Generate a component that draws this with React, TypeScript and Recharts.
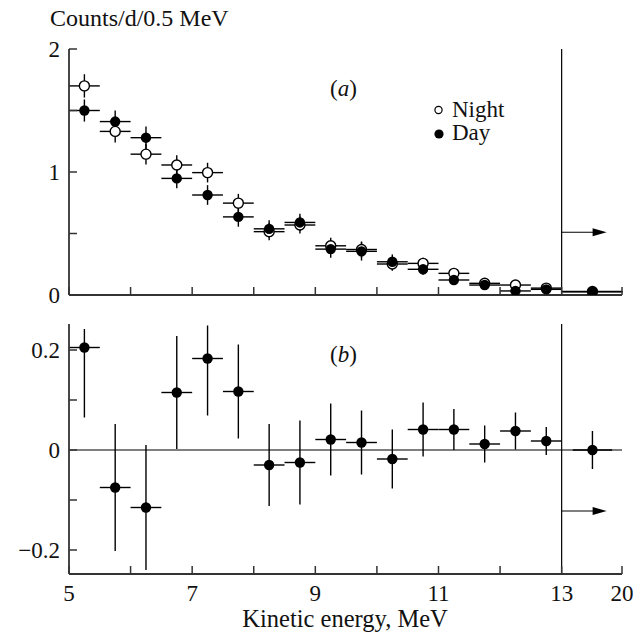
import React from 'react';
import { ScatterChart, Scatter, XAxis, YAxis, ErrorBar, ReferenceLine } from 'recharts';

const FONT = "'Liberation Serif', 'Times New Roman', serif";
const INK = '#111';
const AXIS = '#333';

// 0.5 MeV bins from 5 to 13 MeV; the last entry is the 13-20 MeV bin, drawn compressed at 13.5
const binCenters = [5.25, 5.75, 6.25, 6.75, 7.25, 7.75, 8.25, 8.75, 9.25, 9.75, 10.25, 10.75, 11.25, 11.75, 12.25, 12.75, 13.5];
const binHalfWidthA = [0.25, 0.25, 0.25, 0.25, 0.25, 0.25, 0.25, 0.25, 0.25, 0.25, 0.25, 0.25, 0.25, 0.25, 0.25, 0.25, 0.49];
const binHalfWidthB = [0.25, 0.25, 0.25, 0.25, 0.25, 0.25, 0.25, 0.25, 0.25, 0.25, 0.25, 0.25, 0.25, 0.25, 0.25, 0.25, 0.32];

// panel (a): counts/d/0.5 MeV
const nightRate = [1.70, 1.33, 1.145, 1.057, 0.995, 0.747, 0.515, 0.569, 0.40, 0.37, 0.252, 0.257, 0.176, 0.095, 0.081, 0.056, 0.028];
const nightErr = [0.095, 0.09, 0.085, 0.08, 0.08, 0.075, 0.07, 0.07, 0.065, 0.065, 0.055, 0.045, 0.04, 0.03, 0.03, 0.025, 0.02];
const dayRate = [1.50, 1.41, 1.279, 0.948, 0.813, 0.635, 0.538, 0.59, 0.373, 0.355, 0.27, 0.209, 0.122, 0.081, 0.033, 0.046, 0.027];
const dayErr = [0.09, 0.09, 0.09, 0.08, 0.08, 0.08, 0.07, 0.07, 0.07, 0.075, 0.06, 0.045, 0.04, 0.03, 0.03, 0.025, 0.02];

// panel (b): difference
const diffVal = [0.205, -0.075, -0.115, 0.115, 0.183, 0.117, -0.03, -0.025, 0.021, 0.015, -0.018, 0.041, 0.041, 0.012, 0.038, 0.018, 0.0];
const diffErrLow = [0.14, 0.127, 0.125, 0.113, 0.114, 0.094, 0.082, 0.084, 0.072, 0.064, 0.059, 0.054, 0.041, 0.037, 0.037, 0.028, 0.038];
const diffErrHigh = [0.037, 0.127, 0.125, 0.113, 0.066, 0.094, 0.082, 0.084, 0.072, 0.064, 0.059, 0.054, 0.041, 0.037, 0.037, 0.028, 0.038];

const xTicks = [5, 6, 7, 8, 9, 10, 11, 12, 13, 13.98];
const xTickText = ['5', '', '7', '', '9', '', '11', '', '13', '20'];
const yTicksA = [0, 0.5, 1, 1.5, 2];
const yTickTextA = ['0', '', '1', '', '2'];
const yTicksB = [-0.2, -0.1, 0, 0.1, 0.2];
const yTickTextB = ['\u22120.2', '', '0', '', '0.2'];

const nightData = binCenters.map((x, i) => ({ x, y: nightRate[i], ex: binHalfWidthA[i], ey: nightErr[i] }));
const dayData = binCenters.map((x, i) => ({ x, y: dayRate[i], ex: binHalfWidthA[i], ey: dayErr[i] }));
const diffData = binCenters.map((x, i) => ({ x, y: diffVal[i], ex: binHalfWidthB[i], ey: [diffErrLow[i], diffErrHigh[i]] }));

const findText = (ticks: number[], texts: string[], v: number) => {
  const i = ticks.findIndex((t) => Math.abs(t - v) < 1e-6);
  return i >= 0 ? texts[i] : '';
};

const makeXTick = (showLabel: boolean) => (props: any) => {
  const { x, y, payload } = props;
  const label = findText(xTicks, xTickText, payload.value);
  return (
    <g>
      <line x1={x} x2={x} y1={y} y2={y - 8} stroke={AXIS} strokeWidth={1.5} />
      {showLabel && label && (
        <text x={x} y={y + 27} textAnchor="middle" fontFamily={FONT} fontSize={23} fill={INK}>
          {label}
        </text>
      )}
    </g>
  );
};

const makeYTick = (ticks: number[], texts: string[]) => (props: any) => {
  const { x, y, payload } = props;
  const label = findText(ticks, texts, payload.value);
  return (
    <g>
      <line x1={x} x2={x + 8} y1={y} y2={y} stroke={AXIS} strokeWidth={1.5} />
      {label && (
        <text x={x - 9} y={y + 8} textAnchor="end" fontFamily={FONT} fontSize={23} fill={INK}>
          {label}
        </text>
      )}
    </g>
  );
};

const FilledDot = (props: any) => <circle cx={props.cx} cy={props.cy} r={5.2} fill="#000" />;
const OpenDot = (props: any) => (
  <circle cx={props.cx} cy={props.cy} r={5} fill="#fff" stroke="#000" strokeWidth={1.4} />
);

const Arrow = (props: any) => {
  const { x1, y1, x2, y2 } = props;
  return (
    <g>
      <line x1={x1} y1={y1} x2={x2 - 10} y2={y2} stroke="#000" strokeWidth={1.2} />
      <polygon points={`${x2},${y2} ${x2 - 14},${y2 - 4} ${x2 - 14},${y2 + 4}`} fill="#000" />
    </g>
  );
};

export default function App() {
  return (
    <div style={{ position: 'absolute', left: 0, top: 0, width: 643, height: 634, background: '#fff' }}>
      {/* panel (a) */}
      <div style={{ position: 'absolute', left: 0, top: 0 }}>
        <ScatterChart width={643} height={312} margin={{ top: 49, right: 21, bottom: 0, left: 0 }}>
          <XAxis
            type="number"
            dataKey="x"
            domain={[5, 13.98]}
            ticks={xTicks}
            interval={0}
            allowDataOverflow
            height={17}
            tickSize={0}
            tickMargin={0}
            tickLine={false}
            tick={makeXTick(false)}
            axisLine={{ stroke: AXIS, strokeWidth: 1.8 }}
          />
          <YAxis
            type="number"
            dataKey="y"
            domain={[0, 2]}
            ticks={yTicksA}
            interval={0}
            allowDataOverflow
            width={69}
            tickSize={0}
            tickMargin={0}
            tickLine={false}
            tick={makeYTick(yTicksA, yTickTextA)}
            axisLine={{ stroke: AXIS, strokeWidth: 1.8 }}
          />
          <ReferenceLine x={13} stroke="#000" strokeWidth={1.2} />
          <ReferenceLine
            segment={[{ x: 13, y: 0.51 }, { x: 13.73, y: 0.51 }]}
            shape={Arrow}
          />
          <Scatter data={nightData} shape={OpenDot} isAnimationActive={false}>
            <ErrorBar dataKey="ex" direction="x" width={0} stroke="#000" strokeWidth={1.4} />
            <ErrorBar dataKey="ey" direction="y" width={0} stroke="#000" strokeWidth={1.4} />
          </Scatter>
          <Scatter data={dayData} shape={FilledDot} isAnimationActive={false}>
            <ErrorBar dataKey="ex" direction="x" width={0} stroke="#000" strokeWidth={1.4} />
            <ErrorBar dataKey="ey" direction="y" width={0} stroke="#000" strokeWidth={1.4} />
          </Scatter>
        </ScatterChart>
      </div>

      {/* panel (b) */}
      <div style={{ position: 'absolute', left: 0, top: 300 }}>
        <ScatterChart width={643} height={334} margin={{ top: 24, right: 21, bottom: 0, left: 0 }}>
          <XAxis
            type="number"
            dataKey="x"
            domain={[5, 13.98]}
            ticks={xTicks}
            interval={0}
            allowDataOverflow
            height={60}
            tickSize={0}
            tickMargin={0}
            tickLine={false}
            tick={makeXTick(true)}
            axisLine={{ stroke: AXIS, strokeWidth: 1.8 }}
          />
          <YAxis
            type="number"
            dataKey="y"
            domain={[-0.248, 0.252]}
            ticks={yTicksB}
            interval={0}
            allowDataOverflow
            width={69}
            tickSize={0}
            tickMargin={0}
            tickLine={false}
            tick={makeYTick(yTicksB, yTickTextB)}
            axisLine={{ stroke: AXIS, strokeWidth: 1.8 }}
          />
          <ReferenceLine y={0} stroke="#000" strokeWidth={1.2} />
          <ReferenceLine x={13} stroke="#000" strokeWidth={1.2} />
          <ReferenceLine
            segment={[{ x: 13, y: -0.122 }, { x: 13.73, y: -0.122 }]}
            shape={Arrow}
          />
          <Scatter data={diffData} shape={FilledDot} isAnimationActive={false}>
            <ErrorBar dataKey="ex" direction="x" width={0} stroke="#000" strokeWidth={1.4} />
            <ErrorBar dataKey="ey" direction="y" width={0} stroke="#000" strokeWidth={1.4} />
          </Scatter>
        </ScatterChart>
      </div>

      {/* labels */}
      <svg
        width={643}
        height={634}
        style={{ position: 'absolute', left: 0, top: 0, pointerEvents: 'none' }}
        fontFamily={FONT}
        fill={INK}
      >
        <text x={50} y={26} fontSize={24}>Counts/d/0.5 MeV</text>
        <text x={330} y={96} fontSize={23}>
          (<tspan fontStyle="italic">a</tspan>)
        </text>
        <text x={330} y={362} fontSize={23}>
          (<tspan fontStyle="italic">b</tspan>)
        </text>
        <circle cx={438.5} cy={110} r={3.6} fill="#fff" stroke="#000" strokeWidth={1.2} />
        <text x={452} y={117} fontSize={23}>Night</text>
        <circle cx={439} cy={134} r={4.6} fill="#000" />
        <text x={452} y={140} fontSize={23}>Day</text>
        <text x={345} y={627} fontSize={24.5} textAnchor="middle">Kinetic energy, MeV</text>
      </svg>
    </div>
  );
}
